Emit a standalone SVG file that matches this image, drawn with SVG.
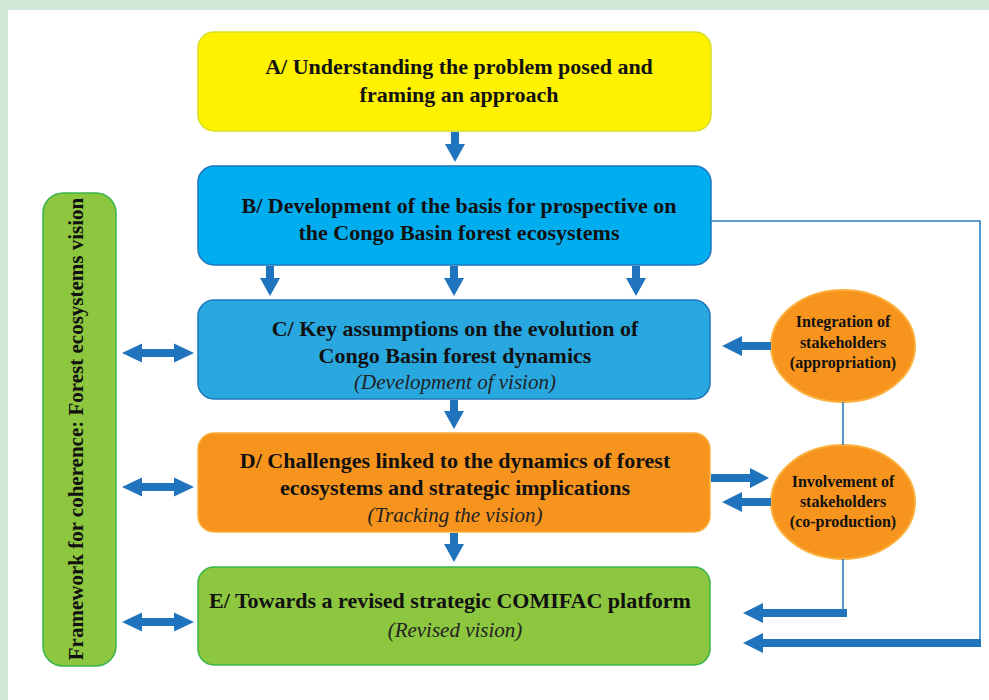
<svg xmlns="http://www.w3.org/2000/svg" width="989" height="700" viewBox="0 0 989 700">
<style>
.t{font-family:"Liberation Serif","Times New Roman",serif;font-weight:bold;font-size:22px;fill:#111;text-anchor:middle}
.i{font-family:"Liberation Serif","Times New Roman",serif;font-style:italic;font-size:21px;fill:#222;text-anchor:middle}
.e{font-family:"Liberation Serif","Times New Roman",serif;font-weight:bold;font-size:16px;fill:#111;text-anchor:middle}
.arr{fill:#1f74bd}
.thin{fill:none;stroke:#2a7fc5;stroke-width:1.6}
.ell{fill:#f7941d;stroke:#fbb040;stroke-width:2}
</style>
<rect x="0" y="0" width="989" height="700" fill="#cfe8d7"/>
<rect x="8" y="10" width="981" height="690" fill="#ffffff"/>

<g id="frame">
<rect x="43" y="193" width="73" height="473" rx="20" fill="#8dc63f" stroke="#39b54a" stroke-width="1.5"/>
<text class="t" font-size="21" transform="translate(83,429) rotate(-90)" style="font-size:21px">Framework for coherence: Forest ecosystems vision</text>
</g>

<g id="nodeA">
<rect x="198" y="32" width="513" height="99" rx="16" fill="#fff200" stroke="#d7df23" stroke-width="1.5"/>
<text class="t" x="459" y="74">A/ Understanding the problem posed and</text>
<text class="t" x="459" y="102">framing an approach</text>
</g>

<g id="nodeB">
<rect x="198" y="166" width="513" height="99" rx="16" fill="#00aeef" stroke="#1c75bc" stroke-width="1.5"/>
<text class="t" x="459" y="213">B/ Development of the basis for prospective on</text>
<text class="t" x="459" y="240">the Congo Basin forest ecosystems</text>
</g>

<g id="nodeC">
<rect x="198" y="300" width="512" height="99" rx="16" fill="#29a8e0" stroke="#1c75bc" stroke-width="1.5"/>
<text class="t" x="455" y="336">C/ Key assumptions on the evolution of</text>
<text class="t" x="455" y="363">Congo Basin forest dynamics</text>
<text class="i" x="455" y="389">(Development of vision)</text>
</g>

<g id="nodeD">
<rect x="198" y="433" width="512" height="99" rx="16" fill="#f7941d" stroke="#fbb040" stroke-width="1.5"/>
<text class="t" x="455" y="468">D/ Challenges linked to the dynamics of forest</text>
<text class="t" x="455" y="495">ecosystems and strategic implications</text>
<text class="i" x="455" y="522">(Tracking the vision)</text>
</g>

<g id="nodeE">
<rect x="198" y="567" width="512" height="98" rx="16" fill="#8dc63f" stroke="#39b54a" stroke-width="1.5"/>
<text class="t" x="450" y="608">E/ Towards a revised strategic COMIFAC platform</text>
<text class="i" x="455" y="637">(Revised vision)</text>
</g>

<g id="integration">
<ellipse class="ell" cx="843" cy="346" rx="72" ry="56"/>
<text class="e" x="843" y="327">Integration of</text>
<text class="e" x="843" y="348">stakeholders</text>
<text class="e" x="843" y="368">(appropriation)</text>
</g>

<g id="involvement">
<ellipse class="ell" cx="843" cy="502" rx="72" ry="57"/>
<text class="e" x="843" y="487">Involvement of</text>
<text class="e" x="843" y="507">stakeholders</text>
<text class="e" x="843" y="527">(co-production)</text>
</g>

<g id="connectors">
<!-- thin lines -->
<polyline class="thin" points="711,221 980,221 980,643"/>
<line class="thin" x1="843" y1="402" x2="843" y2="445"/>
<polyline class="thin" points="843,559 843,613"/>
<!-- down arrows -->
<polygon class="arr" points="451,132 459,132 459,144 465,144 455,162 445,144 451,144"/>
<polygon class="arr" points="266,266 274,266 274,278 280,278 270,296 260,278 266,278"/>
<polygon class="arr" points="450,266 458,266 458,278 464,278 454,296 444,278 450,278"/>
<polygon class="arr" points="632,266 640,266 640,278 646,278 636,296 626,278 632,278"/>
<polygon class="arr" points="450,400 458,400 458,411 464,411 454,429 444,411 450,411"/>
<polygon class="arr" points="450,533 458,533 458,544 464,544 454,562 444,544 450,544"/>
<!-- left double arrows -->
<polygon class="arr" points="122,353 142,343.5 142,349 174,349 174,343.5 194,353 174,362.5 174,357 142,357 142,362.5"/>
<polygon class="arr" points="122,487 142,477.5 142,483 174,483 174,477.5 194,487 174,496.5 174,491 142,491 142,496.5"/>
<polygon class="arr" points="122,622 142,612.5 142,618 174,618 174,612.5 194,622 174,631.5 174,626 142,626 142,631.5"/>
<!-- right arrows -->
<polygon class="arr" points="771,342 742,342 742,336 722,346 742,356 742,350 771,350"/>
<polygon class="arr" points="711,474 750,474 750,468 769,478 750,488 750,482 711,482"/>
<polygon class="arr" points="771,498 742,498 742,492 722,502 742,512 742,506 771,506"/>
<polygon class="arr" points="847,609 763,609 763,603 743,613 763,623 763,617 847,617"/>
<polygon class="arr" points="981,639 763,639 763,633 743,643 763,653 763,647 981,647"/>
</g>
</svg>
